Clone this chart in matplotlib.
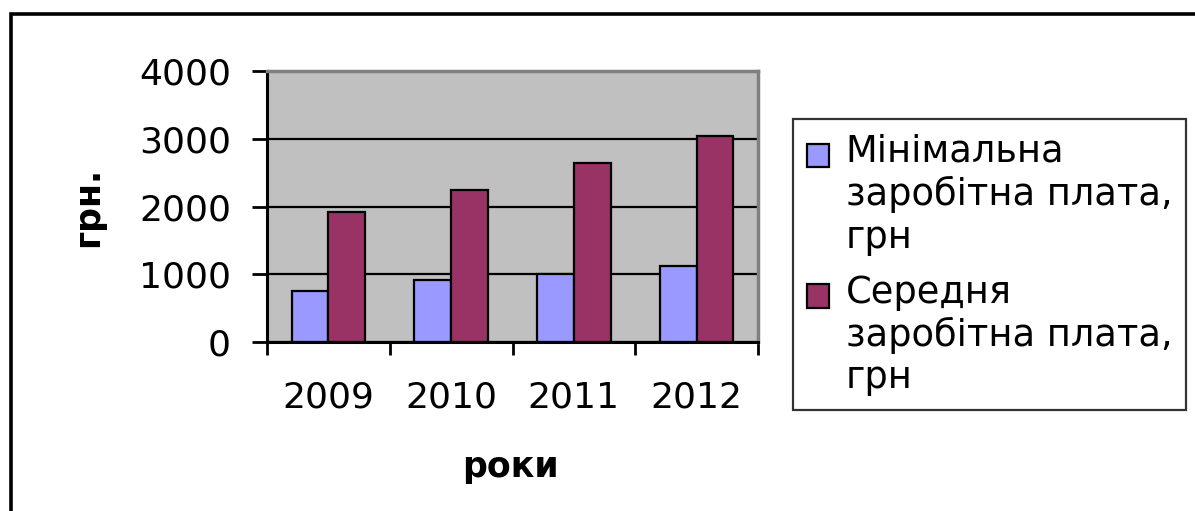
import numpy as np
import matplotlib
matplotlib.use("Agg")
import matplotlib.pyplot as plt
from matplotlib.patches import Rectangle
from matplotlib.container import BarContainer
from matplotlib.legend_handler import HandlerPatch, update_from_first_child

plt.rcParams.update({'font.family': ['DejaVu Sans'], 'font.size': 26})

years = ['2009', '2010', '2011', '2012']
min_wage = [760, 920, 1000, 1115]
avg_wage = [1920, 2240, 2640, 3040]
labels = ['Мінімальна\nзаробітна плата,\nгрн', 'Середня\nзаробітна плата,\nгрн']
colors = ['#9999FF', '#993366']

fig = plt.figure(figsize=(11.95, 5.11), dpi=100)
ax = fig.add_axes([267 / 1195, 1 - 342 / 511, 491 / 1195, 271 / 511])
ax.set_facecolor('#C0C0C0')

x = np.arange(len(years))
w = 0.3
ax.bar(x - w / 2, min_wage, w, color=colors[0], edgecolor='black', linewidth=1.6, label=labels[0])
ax.bar(x + w / 2, avg_wage, w, color=colors[1], edgecolor='black', linewidth=1.6, label=labels[1])

ax.set_xlim(-0.5, 3.5)
ax.set_ylim(0, 4000)
ax.set_yticks([0, 1000, 2000, 3000, 4000])
ax.yaxis.grid(True, color='black', linewidth=1.6)
ax.set_axisbelow(True)

# category boundaries as major ticks, year labels on minor ticks
ax.set_xticks(np.arange(-0.5, 4, 1.0))
ax.set_xticklabels([])
ax.set_xticks(x, minor=True)
ax.set_xticklabels(years, minor=True)
ax.tick_params(axis='x', which='major', length=9, width=2, direction='out')
ax.tick_params(axis='x', which='minor', length=0, pad=28)
ax.tick_params(axis='y', length=11, width=2, direction='out', pad=15)

for s in ['left', 'bottom']:
    ax.spines[s].set_linewidth(2.2)
    ax.spines[s].set_color('black')
for s in ['top', 'right']:
    ax.spines[s].set_linewidth(2.5)
    ax.spines[s].set_color('#808080')

ax.set_ylabel('грн.', fontweight='bold', va='center', fontsize=25)
ax.yaxis.set_label_coords(-0.365, 0.5)
ax.set_xlabel('роки', fontweight='bold', va='top', fontsize=25)
ax.xaxis.set_label_coords(0.495, -0.40)


def first_line_square(legend, orig_handle, xdescent, ydescent, width, height, fontsize):
    # put the swatch next to the first line of the three-line label
    return Rectangle((-xdescent, -ydescent + 1.1 * fontsize), width, height)


leg = ax.legend(loc='upper left', bbox_to_anchor=(793 / 1195, 1 - 119 / 511),
                bbox_transform=fig.transFigure, borderaxespad=0,
                frameon=True, fancybox=False, shadow=False, fontsize=26.5,
                handlelength=0.6, handleheight=0.6, handletextpad=0.45,
                borderpad=0.38, labelspacing=0.48,
                handler_map={BarContainer: HandlerPatch(patch_func=first_line_square,
                                                        update_func=update_from_first_child)})
leg.get_frame().set_edgecolor('black')
leg.get_frame().set_linewidth(1.6)
for p in leg.get_patches():
    p.set_edgecolor('black')
    p.set_linewidth(1.6)

# outer chart border
fig.add_artist(Rectangle((10.5 / 1195, -0.1), 2, 1.1 - 14 / 511, transform=fig.transFigure,
                         fill=False, edgecolor='black', linewidth=2.6))

fig.savefig('out.png', dpi=100)
